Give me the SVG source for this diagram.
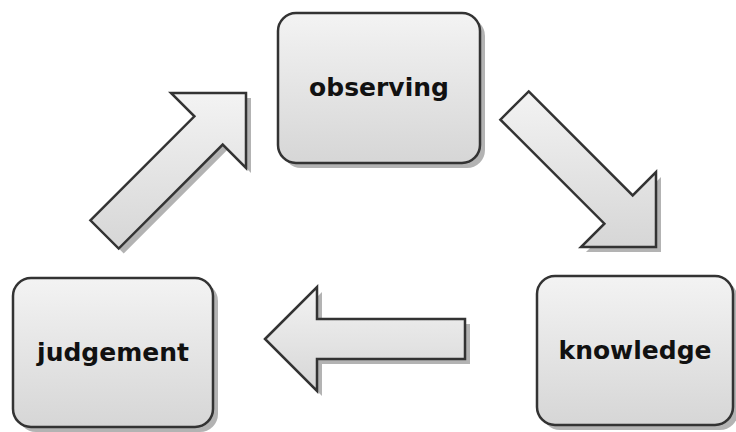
<svg xmlns="http://www.w3.org/2000/svg" width="736" height="432" viewBox="0 0 736 432">
<defs>
<linearGradient id="g" x1="0" y1="0" x2="0" y2="1">
<stop offset="0" stop-color="#f3f3f3"/>
<stop offset="1" stop-color="#d6d6d6"/>
</linearGradient>
<style>
.box{fill:url(#g);stroke:#333;stroke-width:2.5}
.arr{fill:url(#g);stroke:#333;stroke-width:2.5;stroke-linejoin:miter}
.sh{fill:#b3b3b3;stroke:none}
.lbl{font-family:"DejaVu Sans",Verdana,sans-serif;font-weight:bold;font-size:25px;fill:#111;text-anchor:middle}
</style>
</defs>
<rect width="736" height="432" fill="#fff"/>
<g id="connectors">
<g id="arrow-judgement-observing">
<polygon class="sh" transform="translate(5,5)" points="90.4,220.3 194.4,116.3 171,93 246,93 246,168 222.7,144.6 118.7,248.6"/>
<polygon class="arr" points="90.4,220.3 194.4,116.3 171,93 246,93 246,168 222.7,144.6 118.7,248.6"/>
</g>
<g id="arrow-observing-knowledge">
<polygon class="sh" transform="translate(5,5)" points="528.7,91.4 632.7,195.4 656,172 656,247 581,247 604.4,223.7 500.4,119.7"/>
<polygon class="arr" points="528.7,91.4 632.7,195.4 656,172 656,247 581,247 604.4,223.7 500.4,119.7"/>
</g>
<g id="arrow-knowledge-judgement">
<polygon class="sh" transform="translate(5,5)" points="265,339 317,287 317,319 465,319 465,359 317,359 317,391"/>
<polygon class="arr" points="265,339 317,287 317,319 465,319 465,359 317,359 317,391"/>
</g>
</g>
<g id="observing">
<rect class="sh" x="283" y="18" width="202" height="150" rx="18"/>
<rect class="box" x="278" y="13" width="202" height="150" rx="18"/>
<text class="lbl" x="379" y="96">observing</text>
</g>
<g id="judgement">
<rect class="sh" x="18" y="283" width="200" height="149" rx="18"/>
<rect class="box" x="13" y="278" width="200" height="149" rx="18"/>
<text class="lbl" x="113" y="361">judgement</text>
</g>
<g id="knowledge">
<rect class="sh" x="542" y="281" width="196" height="149" rx="18"/>
<rect class="box" x="537" y="276" width="196" height="149" rx="18"/>
<text class="lbl" x="635" y="359">knowledge</text>
</g>
</svg>
